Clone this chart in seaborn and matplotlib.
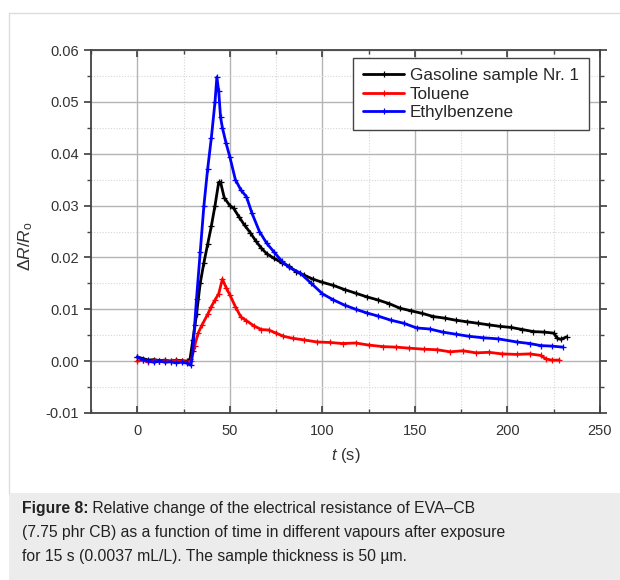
import matplotlib
matplotlib.use("Agg")
import matplotlib.pyplot as plt
from matplotlib.ticker import MultipleLocator
from matplotlib.patches import Rectangle
import seaborn as sns

# values
GAS_T = [0, 3, 6, 9, 12, 15, 18, 21, 24, 27, 28.5, 30, 32, 34, 36, 38, 40, 42, 44, 45,
         47, 50, 52, 55, 58, 61, 64, 67, 70, 74, 78, 82, 86, 90, 95, 100, 106, 112, 118,
         124, 130, 136, 142, 148, 154, 160, 166, 172, 178, 184, 190, 196, 202, 208, 214,
         220, 225, 227, 229, 232]
GAS_V = [0.0008, 0.0005, 0.0002, 0.0003, 0.0001, 0.0002, 0.0000, 0.0002, 0.0001, 0.0000,
         0.0004, 0.0040, 0.0090, 0.0150, 0.0190, 0.0225, 0.0260, 0.0300, 0.0345, 0.0345,
         0.0315, 0.0300, 0.0295, 0.0278, 0.0262, 0.0248, 0.0232, 0.0218, 0.0207, 0.0198,
         0.0190, 0.0183, 0.0172, 0.0166, 0.0158, 0.0152, 0.0146, 0.0138, 0.0131, 0.0124,
         0.0118, 0.0111, 0.0102, 0.0097, 0.0092, 0.0086, 0.0083, 0.0079, 0.0076, 0.0073,
         0.0070, 0.0067, 0.0065, 0.0061, 0.0057, 0.0056, 0.0054, 0.0044, 0.0042, 0.0047]

TOL_T = [0, 3, 6, 9, 12, 15, 18, 21, 24, 27, 29, 31, 33, 35, 38, 40, 42, 44, 46, 48, 50,
         53, 56, 59, 63, 67, 71, 75, 79, 84, 90, 97, 104, 111, 118, 125, 133, 140, 147,
         155, 162, 169, 176, 183, 190, 197, 205, 212, 218, 221, 224, 228]
TOL_V = [0.0000, 0.0002, -0.0001, 0.0001, 0.0000, 0.0001, 0.0000, 0.0001, 0.0000, -0.0002,
         0.0000, 0.0030, 0.0055, 0.0070, 0.0090, 0.0105, 0.0118, 0.0130, 0.0158, 0.0142,
         0.0128, 0.0105, 0.0085, 0.0078, 0.0068, 0.0061, 0.0060, 0.0054, 0.0048, 0.0044,
         0.0041, 0.0037, 0.0036, 0.0034, 0.0035, 0.0031, 0.0028, 0.0027, 0.0025, 0.0023,
         0.0022, 0.0018, 0.0020, 0.0016, 0.0017, 0.0014, 0.0013, 0.0014, 0.0011, 0.0004,
         0.0002, 0.0002]

ETH_T = [0, 3, 6, 9, 12, 15, 18, 21, 24, 27, 29, 30, 31, 32, 34, 36, 38, 40, 42, 43, 44,
         45, 46, 48, 50, 53, 56, 59, 62, 66, 70, 74, 78, 82, 88, 94, 100, 106, 112, 118,
         124, 130, 137, 144, 151, 158, 165, 172, 179, 187, 195, 205, 212, 218, 224, 230]
ETH_V = [0.0008, 0.0003, 0.0000, -0.0002, 0.0000, -0.0002, -0.0001, -0.0003, -0.0002,
         -0.0004, -0.0008, 0.0020, 0.0070, 0.0120, 0.0210, 0.0300, 0.0370, 0.0430, 0.0500,
         0.0548, 0.0520, 0.0470, 0.0450, 0.0420, 0.0394, 0.0350, 0.0330, 0.0317, 0.0285,
         0.0250, 0.0227, 0.0210, 0.0193, 0.0181, 0.0170, 0.0150, 0.0130, 0.0118, 0.0108,
         0.0100, 0.0093, 0.0087, 0.0079, 0.0073, 0.0064, 0.0062, 0.0056, 0.0052, 0.0048,
         0.0045, 0.0043, 0.0037, 0.0034, 0.0030, 0.0029, 0.0027]

SERIES = ["Gasoline sample Nr. 1", "Toluene", "Ethylbenzene"]
COLORS = ["#000000", "#ff0000", "#0000ff"]

CAPTION_BOLD = "Figure 8:"
CAPTION_LINES = [
    " Relative change of the electrical resistance of EVA\u2013CB",
    "(7.75 phr CB) as a function of time in different vapours after exposure",
    "for 15 s (0.0037 mL/L). The sample thickness is 50 \u00b5m.",
]


def main():
    sns.set_theme(style="white")
    plt.rcParams["font.family"] = ["Liberation Sans", "DejaVu Sans"]
    plt.rcParams["mathtext.fontset"] = "custom"
    plt.rcParams["mathtext.rm"] = "Liberation Sans"
    plt.rcParams["mathtext.it"] = "Liberation Sans:italic"

    fig = plt.figure(figsize=(6.2, 5.8), dpi=100)
    fig.patch.set_facecolor("white")

    # panel border and caption box
    border = dict(transform=fig.transFigure, color="#dddddd", lw=1)
    fig.add_artist(plt.Line2D([9 / 620, 9 / 620], [87 / 580, 1 - 13 / 580], **border))
    fig.add_artist(plt.Line2D([9 / 620, 1], [1 - 13 / 580, 1 - 13 / 580], **border))
    fig.add_artist(Rectangle((9 / 620, 0), 1, 87 / 580, transform=fig.transFigure,
                             facecolor="#ececec", edgecolor="none"))

    ax = fig.add_axes([91 / 620, 1 - 413 / 580, (600 - 91) / 620, (413 - 50) / 580])
    for name, color, t, v in zip(SERIES, COLORS, [GAS_T, TOL_T, ETH_T], [GAS_V, TOL_V, ETH_V]):
        sns.lineplot(x=t, y=v, ax=ax, color=color, label=name, linewidth=2.0,
                     marker="+", markersize=4, markeredgecolor=color,
                     markeredgewidth=0.9, sort=False, estimator=None)

    ax.set_xlim(-25, 250)
    ax.set_ylim(-0.01, 0.06)
    ax.xaxis.set_major_locator(MultipleLocator(50))
    ax.xaxis.set_minor_locator(MultipleLocator(25))
    ax.yaxis.set_major_locator(MultipleLocator(0.01))
    ax.yaxis.set_minor_locator(MultipleLocator(0.005))
    ax.yaxis.set_major_formatter(plt.FuncFormatter(lambda v, p: f"{v:.2f}"))
    ax.grid(which="major", color="#b4b4b4", linewidth=1.0, linestyle="-")
    ax.grid(which="minor", color="#d6d6d6", linewidth=0.8, linestyle=(0, (1, 1.5)))
    ax.set_axisbelow(True)

    for s in ax.spines.values():
        s.set_color("#444444")
        s.set_linewidth(1.3)
    ax.tick_params(which="both", top=True, right=True, bottom=True, left=True,
                   colors="#444444", labelcolor="#333333", labelsize=10.5)
    ax.tick_params(axis="y", which="major", direction="out", length=5)
    ax.tick_params(axis="y", which="minor", direction="out", length=3)
    ax.tick_params(axis="x", which="major", direction="in", length=5, pad=8)
    ax.tick_params(axis="x", which="minor", direction="in", length=3)

    ax.set_xlabel("$t$ (s)", fontsize=12, color="#333333", labelpad=6)
    ax.set_ylabel(r"$\Delta$$R/R_\mathrm{o}$", fontsize=12.5, color="#333333")
    ax.yaxis.set_label_coords(-0.11, 0.46)

    leg = ax.legend(loc="upper right", bbox_to_anchor=(0.978, 0.978), fontsize=12.3,
                    frameon=True, fancybox=False, handlelength=2.4, handletextpad=0.3,
                    borderpad=0.6, labelspacing=0.2, borderaxespad=0.0)
    leg.get_frame().set_edgecolor("#444444")
    leg.get_frame().set_linewidth(1.0)
    leg.get_frame().set_alpha(1)

    fs = 11.3
    x0 = 22 / 620
    t1 = fig.text(x0, 1 - 516 / 580, CAPTION_BOLD, fontsize=fs, fontweight="bold",
                  color="#222222", va="bottom")
    renderer = fig.canvas.get_renderer()
    w = t1.get_window_extent(renderer).width / fig.bbox.width
    fig.text(x0 + w, 1 - 516 / 580, CAPTION_LINES[0], fontsize=fs, color="#222222",
             va="bottom")
    fig.text(x0, 1 - 540 / 580, CAPTION_LINES[1], fontsize=fs, color="#222222",
             va="bottom")
    fig.text(x0, 1 - 564 / 580, CAPTION_LINES[2], fontsize=fs, color="#222222",
             va="bottom")

    fig.savefig("out.png", dpi=100)
    plt.close(fig)


if __name__ == "__main__":
    main()
